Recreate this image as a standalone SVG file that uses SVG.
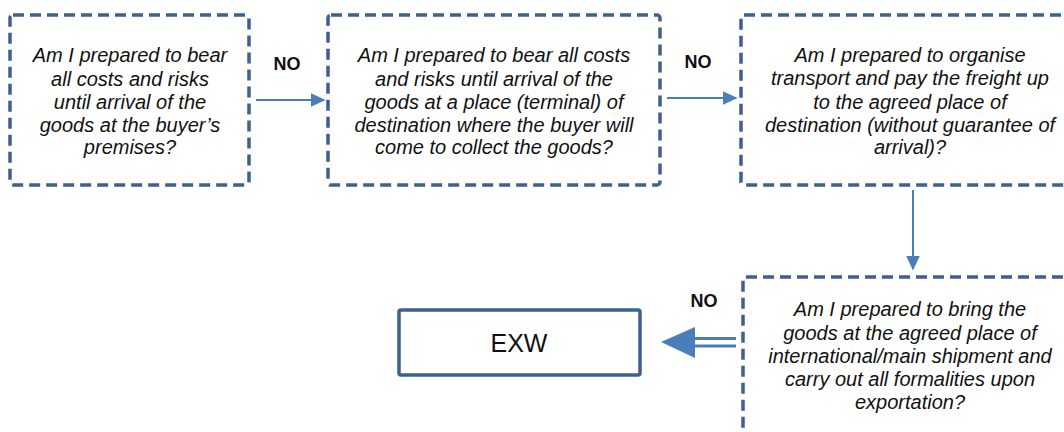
<svg xmlns="http://www.w3.org/2000/svg" width="1064" height="432" viewBox="0 0 1064 432">
  <defs>
    <style>
      .q { fill: #ffffff; stroke: #3e6090; stroke-width: 3.5; stroke-dasharray: 11 6; }
      .qt { font-family: "Liberation Sans", Arial, sans-serif; font-size: 20px; font-style: italic; fill: #111111; text-anchor: middle; }
      .no { font-family: "Liberation Sans", Arial, sans-serif; font-size: 18px; font-weight: bold; fill: #111111; text-anchor: middle; }
      .res { fill: #ffffff; stroke: #3e6090; stroke-width: 3.5; }
      .rt { font-family: "Liberation Sans", Arial, sans-serif; font-size: 25px; fill: #111111; text-anchor: middle; }
      .link { stroke: #4a7ebb; stroke-width: 2; fill: none; }
    </style>
    <marker id="head" viewBox="0 0 10 10" refX="9" refY="5" markerWidth="15" markerHeight="14" orient="auto" markerUnits="userSpaceOnUse" preserveAspectRatio="none">
      <path d="M0,0 L10,5 L0,10 Z" fill="#4a7ebb"/>
    </marker>
  </defs>
  <rect width="1064" height="432" fill="#ffffff"/>

  <g id="q1">
    <rect class="q" x="10" y="15" width="239" height="170" rx="3"/>
    <text class="qt" x="130" y="62">Am I prepared to bear</text>
    <text class="qt" x="130" y="86">all costs and risks</text>
    <text class="qt" x="130" y="109">until arrival of the</text>
    <text class="qt" x="130" y="132">goods at the buyer’s</text>
    <text class="qt" x="130" y="154">premises?</text>
  </g>

  <g id="q2">
    <rect class="q" x="328" y="15" width="332" height="170" rx="3"/>
    <text class="qt" x="494" y="62">Am I prepared to bear all costs</text>
    <text class="qt" x="494" y="86">and risks until arrival of the</text>
    <text class="qt" x="494" y="109">goods at a place (terminal) of</text>
    <text class="qt" x="494" y="132">destination where the buyer will</text>
    <text class="qt" x="494" y="154">come to collect the goods?</text>
  </g>

  <g id="q3">
    <rect class="q" x="741" y="15" width="334" height="170" rx="3"/>
    <text class="qt" x="910" y="62">Am I prepared to organise</text>
    <text class="qt" x="910" y="85">transport and pay the freight up</text>
    <text class="qt" x="910" y="109">to the agreed place of</text>
    <text class="qt" x="910" y="132">destination (without guarantee of</text>
    <text class="qt" x="910" y="154">arrival)?</text>
  </g>

  <g id="q4">
    <rect class="q" x="743" y="277" width="334" height="170" rx="3"/>
    <text class="qt" x="910" y="316">Am I prepared to bring the</text>
    <text class="qt" x="910" y="340">goods at the agreed place of</text>
    <text class="qt" x="910" y="363">international/main shipment and</text>
    <text class="qt" x="910" y="386">carry out all formalities upon</text>
    <text class="qt" x="910" y="409">exportation?</text>
  </g>

  <g id="exw">
    <rect class="res" x="399" y="310" width="241" height="65" rx="2"/>
    <text class="rt" x="519" y="352">EXW</text>
  </g>

  <g id="connectors">
    <line class="link" x1="256" y1="100" x2="324" y2="100" marker-end="url(#head)"/>
    <text class="no" x="287" y="70">NO</text>
    <line class="link" x1="667" y1="98" x2="736" y2="98" marker-end="url(#head)"/>
    <text class="no" x="698" y="68">NO</text>
    <line class="link" x1="913" y1="190" x2="913" y2="269" marker-end="url(#head)"/>
    <!-- double-shaft block arrow toward EXW -->
    <line x1="694" y1="338.5" x2="736" y2="338.5" stroke="#4a7ebb" stroke-width="3"/>
    <line x1="694" y1="346" x2="736" y2="346" stroke="#4a7ebb" stroke-width="3"/>
    <path d="M661,342 L695,327 L695,358 Z" fill="#4a7ebb"/>
    <text class="no" x="704" y="307">NO</text>
  </g>
</svg>
